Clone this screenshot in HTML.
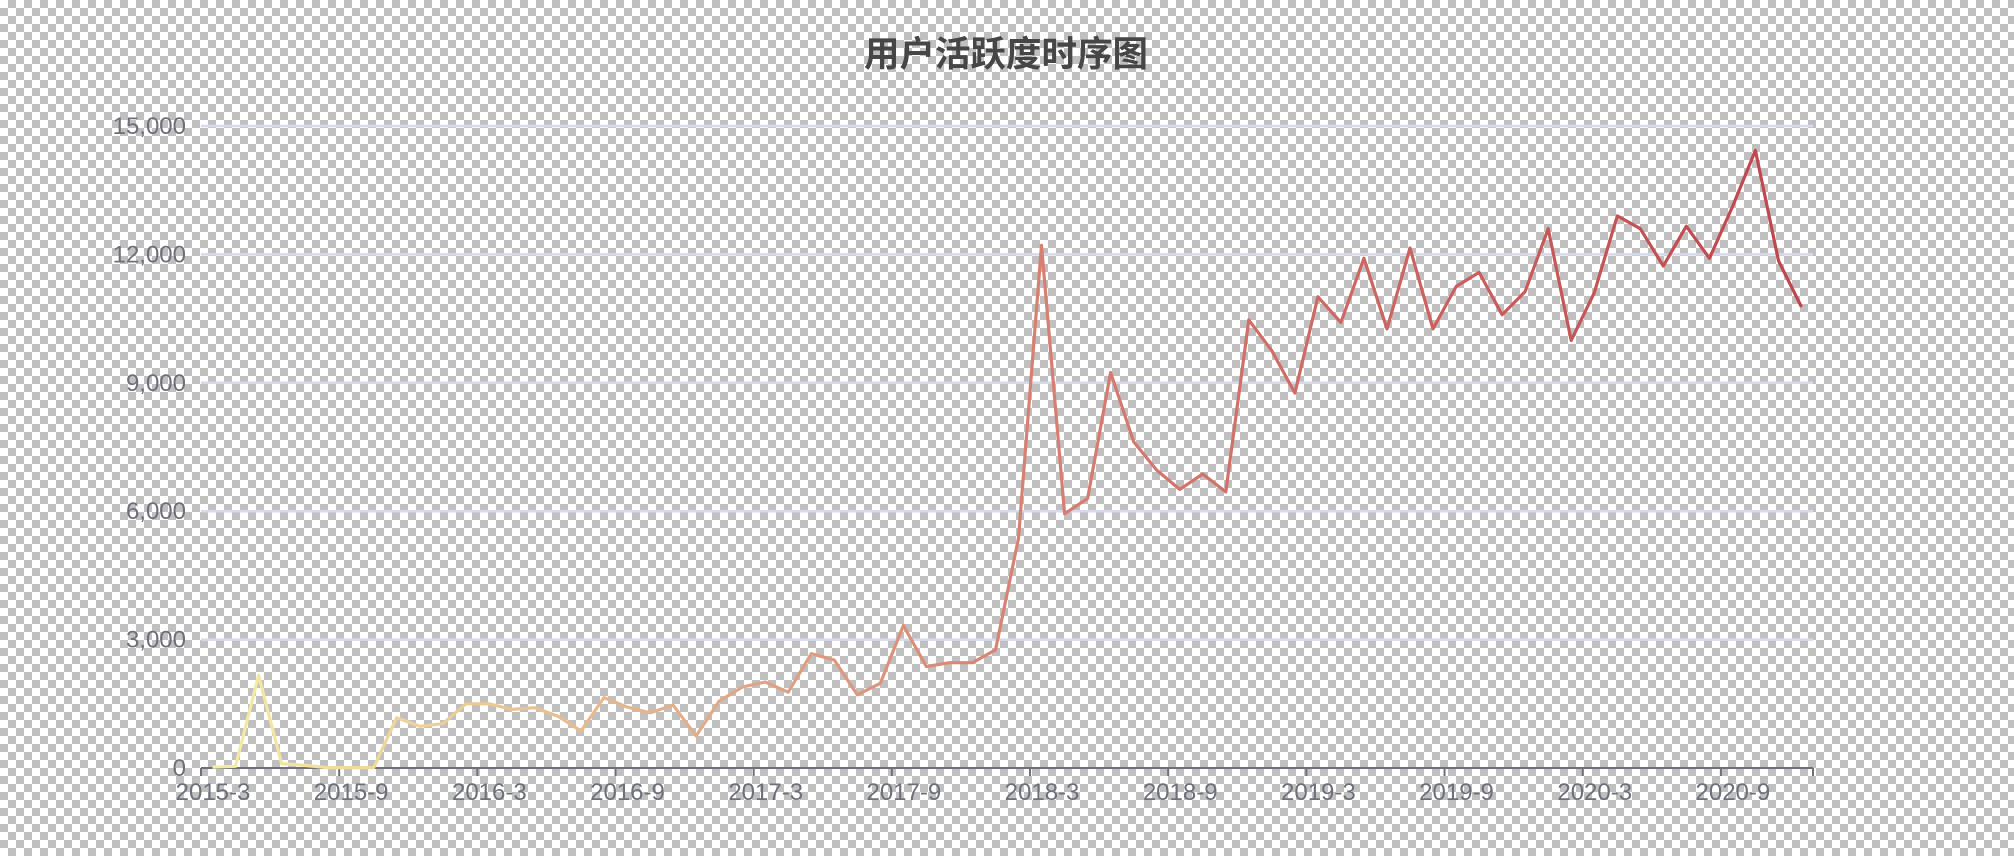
<!DOCTYPE html>
<html><head><meta charset="utf-8">
<style>
html,body{margin:0;padding:0;}
body{width:2014px;height:856px;overflow:hidden;
background-color:#fff;
background-image:linear-gradient(45deg,#c0c0c0 25%,transparent 25%,transparent 75%,#c0c0c0 75%),linear-gradient(45deg,#c0c0c0 25%,transparent 25%,transparent 75%,#c0c0c0 75%);
background-size:16px 16px;background-position:0 0,8px 8px;}
svg{position:absolute;left:0;top:0;}
text{font-family:"Liberation Sans","Noto Sans CJK SC",sans-serif;}
</style></head>
<body>
<svg id="chart" width="2014" height="856" xmlns="http://www.w3.org/2000/svg">
<defs>
<linearGradient id="lg" gradientUnits="userSpaceOnUse" x1="201" y1="0" x2="1813" y2="0">
<stop offset="0" stop-color="#f6efa6"/>
<stop offset="0.5" stop-color="#d88273"/>
<stop offset="1" stop-color="#bf444c"/>
</linearGradient>
</defs>
<text x="1006" y="66" text-anchor="middle" font-size="35.5" font-weight="bold" fill="#464646">用户活跃度时序图</text>
<g id="grid"></g><g id="yl"></g><g id="xa"></g>
<path id="line" fill="none" stroke="url(#lg)" stroke-width="3.2" stroke-linejoin="round"/>
</svg>
<script>
const yTicks=[0,3000,6000,9000,12000,15000];
const yTickLabels=["0","3,000","6,000","9,000","12,000","15,000"];
const startYear=2015, startMonth=3;
const values=[20,40,2165,100,60,10,10,10,1175,975,1035,1500,1500,1370,1410,1210,865,1645,1425,1290,1470,750,1560,1890,2010,1770,2670,2520,1710,1980,3330,2370,2460,2460,2760,5370,12210,5940,6300,9240,7620,6960,6510,6870,6450,10470,9750,8760,11010,10410,11910,10260,12150,10260,11250,11580,10590,11130,12600,9990,11100,12900,12600,11730,12660,11910,13110,14430,11850,10770];
const categories=values.map((v,i)=>{const m=startMonth-1+i;return (startYear+Math.floor(m/12))+'-'+(m%12+1);});
const X0=201,X1=1813,Y0=768,Y1=126;
const bw=(X1-X0)/categories.length;
const xPos=i=>X0+bw*(i+0.5);
const yPos=v=>Y0-(v/15000)*(Y0-Y1);
const NS='http://www.w3.org/2000/svg';
const grid=document.getElementById('grid'),yl=document.getElementById('yl'),xa=document.getElementById('xa');
yTicks.forEach((t,i)=>{
 if(t>0){const l=document.createElementNS(NS,'line');
 
 
 l.setAttribute('x1',X0);l.setAttribute('x2',X1);l.setAttribute('y1',yPos(t));l.setAttribute('y2',yPos(t));
 l.setAttribute('stroke','#d6daeb');l.setAttribute('stroke-width','2.5');grid.appendChild(l);}
 const tx=document.createElementNS(NS,'text');
 
 
 tx.setAttribute('x',186);tx.setAttribute('y',yPos(t)+8);tx.setAttribute('text-anchor','end');
 tx.setAttribute('font-size','24');tx.setAttribute('fill','#6e7079');tx.textContent=yTickLabels[i];yl.appendChild(tx);
});
const ax=document.createElementNS(NS,'line');


ax.setAttribute('x1',X0);ax.setAttribute('x2',X1);ax.setAttribute('y1',Y0);ax.setAttribute('y2',Y0);
ax.setAttribute('stroke','#6e7079');ax.setAttribute('stroke-width','2');xa.appendChild(ax);
for(let i=0;i<=categories.length;i+=6){
 const x=X0+bw*i;
 const tk=document.createElementNS(NS,'line');
 
 
 tk.setAttribute('x1',x);tk.setAttribute('x2',x);tk.setAttribute('y1',Y0);tk.setAttribute('y2',Y0+8);
 tk.setAttribute('stroke','#6e7079');tk.setAttribute('stroke-width','2');xa.appendChild(tk);
 if(i<categories.length){
 const tx=document.createElementNS(NS,'text');
 
 
 tx.setAttribute('x',x+12);tx.setAttribute('y',Y0+32);tx.setAttribute('text-anchor','middle');
 tx.setAttribute('font-size','24');tx.setAttribute('fill','#6e7079');tx.textContent=categories[i];xa.appendChild(tx);}
}
const tkEnd=document.createElementNS(NS,'line');


tkEnd.setAttribute('x1',X1);tkEnd.setAttribute('x2',X1);tkEnd.setAttribute('y1',Y0);tkEnd.setAttribute('y2',Y0+8);
tkEnd.setAttribute('stroke','#6e7079');tkEnd.setAttribute('stroke-width','2');xa.appendChild(tkEnd);
document.getElementById('line').setAttribute('d',values.map((v,i)=>(i?'L':'M')+xPos(i).toFixed(1)+','+yPos(v).toFixed(1)).join(''));
</script>
</body></html>
